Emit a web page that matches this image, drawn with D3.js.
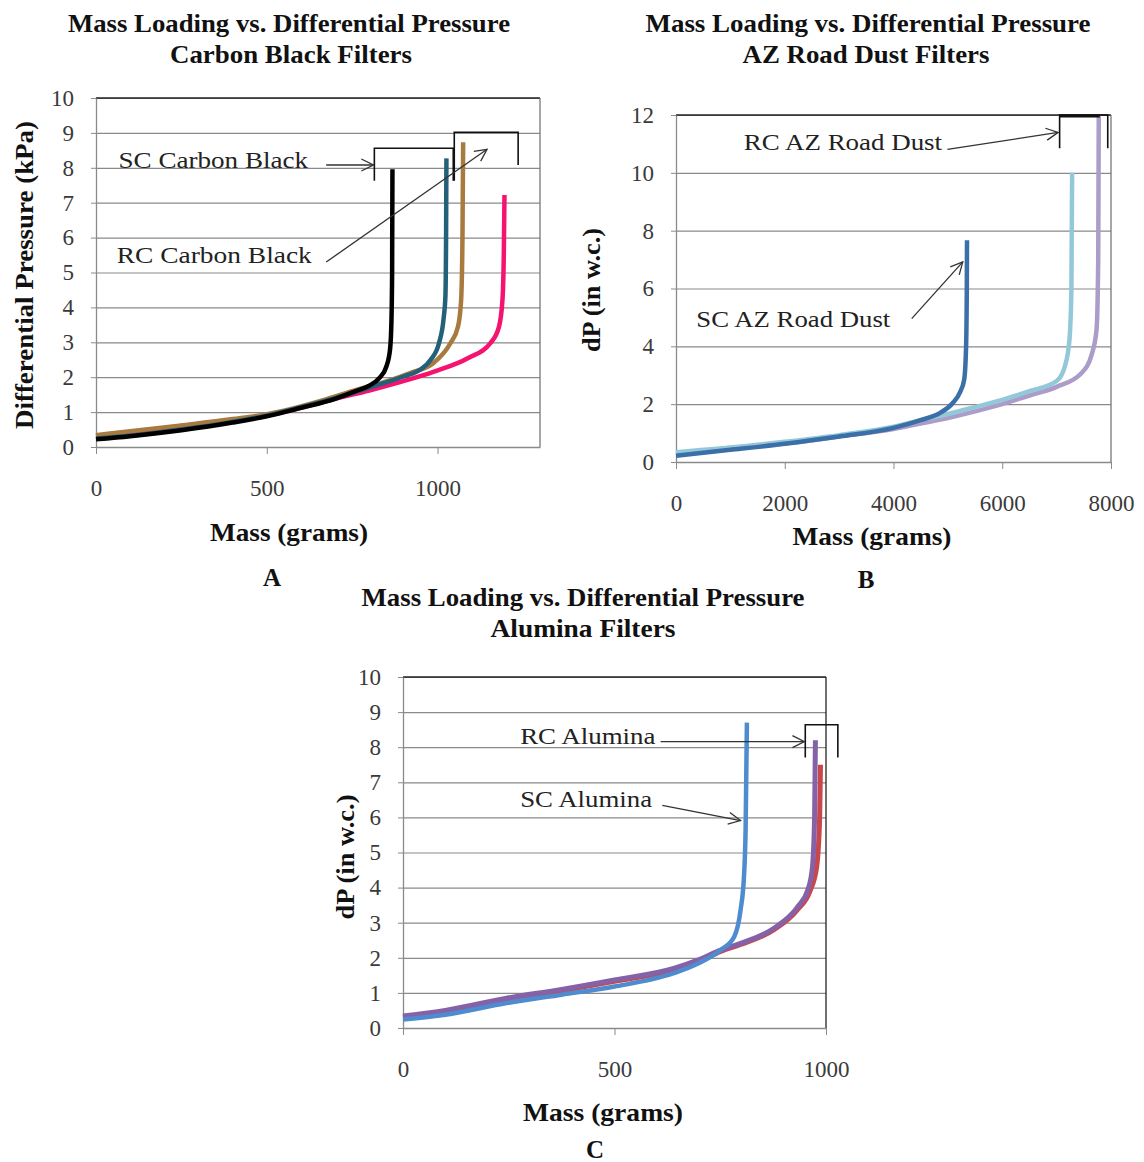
<!DOCTYPE html>
<html><head><meta charset="utf-8">
<script src="https://cdn.jsdelivr.net/npm/d3@7/dist/d3.min.js"></script>
<style>
html,body{margin:0;padding:0;background:#fff;}
svg{display:block;}
text{font-family:"Liberation Serif","Times New Roman",serif;}
</style></head>
<body>
<svg id="c" width="1144" height="1162"></svg>
<script>
// ---------------- DATA ----------------
// Panel A : Carbon Black (mass g, dP kPa)
const xTicksA = [0, 500, 1000];
const yTicksA = [0,1,2,3,4,5,6,7,8,9,10];
const cbBlack = [[0,0.22],[100,0.31],[250,0.48],[400,0.70],[500,0.88],[600,1.12],[700,1.38],[760,1.60],[800,1.76],[830,1.98],[850,2.30],[861,2.80],[865,3.60],[867,5.0],[868,7.96]];
const cbTeal  = [[0,0.24],[100,0.32],[250,0.50],[400,0.72],[500,0.90],[600,1.14],[700,1.40],[800,1.70],[900,2.02],[950,2.22],[980,2.50],[1005,3.0],[1018,3.7],[1023,4.3],[1025,6.0],[1026,8.27]];
const cbBrown = [[0,0.34],[100,0.45],[250,0.62],[400,0.80],[500,0.94],[550,1.04],[650,1.30],[750,1.60],[850,1.88],[920,2.12],[990,2.42],[1038,2.98],[1060,3.45],[1069,4.2],[1073,6.0],[1075,8.73]];
const cbPink  = [[0,0.30],[100,0.41],[250,0.60],[400,0.78],[500,0.90],[600,1.12],[700,1.38],[800,1.62],[890,1.86],[990,2.16],[1090,2.55],[1155,2.98],[1180,3.45],[1190,4.2],[1194,5.5],[1196,7.22]];

// Panel B : AZ Road Dust (mass g, dP in w.c.)
const xTicksB = [0, 2000, 4000, 6000, 8000];
const yTicksB = [0, 2, 4, 6, 8, 10, 12];
const azDark   = [[0,0.22],[1000,0.42],[2000,0.63],[3000,0.88],[4000,1.18],[4500,1.45],[4850,1.69],[5090,2.04],[5220,2.40],[5300,2.85],[5335,4.0],[5348,6.0],[5352,7.67]];
const azLight  = [[0,0.34],[1000,0.50],[2000,0.70],[3000,0.93],[4000,1.22],[4500,1.45],[5000,1.66],[5500,1.90],[6000,2.15],[6500,2.45],[7000,2.80],[7150,3.30],[7235,4.2],[7272,6.0],[7285,10.0]];
const azPurple = [[0,0.30],[1000,0.46],[2000,0.64],[3000,0.88],[4000,1.14],[4500,1.33],[5000,1.52],[5500,1.75],[6000,2.00],[6500,2.30],[7000,2.60],[7450,3.06],[7650,3.75],[7735,4.6],[7765,7.0],[7775,12.0]];

// Panel C : Alumina (mass g, dP in w.c.)
const xTicksC = [0, 500, 1000];
const yTicksC = [0,1,2,3,4,5,6,7,8,9,10];
const alBlue   = [[0,0.24],[100,0.38],[245,0.71],[375,0.95],[500,1.18],[640,1.56],[700,1.85],[751,2.22],[783,2.60],[798,3.36],[806,4.3],[810,5.7],[813,8.70]];
const alRed    = [[0,0.30],[100,0.46],[245,0.80],[375,1.06],[500,1.33],[640,1.66],[700,1.90],[751,2.18],[798,2.38],[877,2.80],[933,3.38],[962,3.90],[978,4.6],[985,6.0],[987,7.50]];
const alPurple = [[0,0.34],[100,0.50],[245,0.85],[375,1.10],[500,1.37],[640,1.70],[700,1.95],[751,2.22],[798,2.41],[877,2.84],[933,3.45],[957,3.93],[968,4.59],[973,6.0],[975,8.20]];

// Annotations (data units)
const labelsA   = [{t:"SC Carbon Black", x0:66, x1:621, y:8.0}, {t:"RC Carbon Black", x0:61, x1:632, y:5.27}];
const arrowsA   = [[674,8.08,812,8.08],[674,5.30,1145,8.53]];
const bracketsA = [[[815,7.63],[815,8.56],[1046,8.56],[1046,7.63]], [[1049,7.63],[1049,9.02],[1236,9.02],[1236,8.08]]];
const labelsB   = [{t:"RC AZ Road Dust", x0:1248, x1:4893, y:10.79}, {t:"SC AZ Road Dust", x0:374, x1:3941, y:4.67}];
const arrowsB   = [[4992,10.81,7028,11.40],[4335,4.96,5274,6.92]];
const bracketsB = [[[7055,10.85],[7055,12],[7940,12],[7940,10.85]]];
const labelsC   = [{t:"RC Alumina", x0:277, x1:597, y:8.09}, {t:"SC Alumina", x0:277, x1:589, y:6.29}];
const arrowsC   = [[609,8.16,949,8.16],[613,6.34,798,5.91]];
const bracketsC = [[[951,7.71],[951,8.64],[1028,8.64],[1028,7.71]]];

// ---------------- DRAW ----------------
const svg = d3.select("#c");
const defs = svg.append("defs");
defs.append("marker").attr("id","ah").attr("viewBox","0 0 14 14")
  .attr("refX",13).attr("refY",7).attr("markerWidth",14).attr("markerHeight",14)
  .attr("markerUnits","userSpaceOnUse").attr("orient","auto")
  .append("path").attr("d","M1,1 L13,7 L1,13").attr("fill","none").attr("stroke","#333").attr("stroke-width",1.3);

function txt(x, y, s, size, len, opts={}) {
  const t = svg.append("text").attr("x",x).attr("y",y).text(s)
    .attr("font-size",size).attr("fill",opts.fill||"#111")
    .attr("font-weight",opts.bold?"bold":"normal")
    .attr("text-anchor",opts.anchor||"middle");
  if (len) t.attr("textLength",len).attr("lengthAdjust","spacingAndGlyphs");
  if (opts.rotate) t.attr("transform",`rotate(-90,${x},${y})`);
  return t;
}

function panel(cfg) {
  const x = d3.scaleLinear().domain([0,cfg.xMax]).range([cfg.left,cfg.right]);
  const y = d3.scaleLinear().domain([0,cfg.yMax]).range([cfg.bottom,cfg.top]);
  const g = svg.append("g");
  g.append("g").attr("transform",`translate(${cfg.left},0)`)
    .call(d3.axisLeft(y).tickValues(cfg.yTicks).tickSize(-(cfg.right-cfg.left)).tickFormat(""))
    .call(a=>a.select(".domain").remove())
    .selectAll("line").attr("stroke","#8a8a8a").attr("stroke-width",1.2);
  g.append("line").attr("x1",cfg.left).attr("x2",cfg.right).attr("y1",cfg.top).attr("y2",cfg.top).attr("stroke","#222").attr("stroke-width",1.4);
  g.append("line").attr("x1",cfg.right).attr("x2",cfg.right).attr("y1",cfg.top).attr("y2",cfg.bottom).attr("stroke",cfg.rightColor).attr("stroke-width",1.3);
  const ya = g.append("g").attr("transform",`translate(${cfg.left},0)`)
    .call(d3.axisLeft(y).tickValues(cfg.yTicks).tickSize(5).tickPadding(17).tickSizeOuter(0));
  ya.select(".domain").attr("stroke","#8a8a8a").attr("stroke-width",1.3);
  ya.selectAll("line").attr("stroke","#8a8a8a");
  ya.selectAll("text").attr("font-size",23).attr("fill","#3a3a3a").attr("font-family","Liberation Serif");
  const xa = g.append("g").attr("transform",`translate(0,${cfg.bottom})`)
    .call(d3.axisBottom(x).tickValues(cfg.xTicks).tickSize(7).tickPadding(26).tickSizeOuter(0).tickFormat(d3.format("d")));
  xa.select(".domain").attr("stroke","#8a8a8a").attr("stroke-width",1.3);
  xa.selectAll("line").attr("stroke","#8a8a8a");
  xa.selectAll("text").attr("font-size",23).attr("fill","#3a3a3a").attr("font-family","Liberation Serif");
  const line = d3.line().x(d=>x(d[0])).y(d=>y(d[1])).curve(d3.curveMonotoneX);
  cfg.series.forEach(s=>{
    g.append("path").datum(s.pts).attr("d",line).attr("fill","none")
      .attr("stroke",s.color).attr("stroke-width",s.w||4.5).attr("stroke-linejoin","round").attr("stroke-linecap","butt");
  });
  cfg.brackets.forEach(b=>{
    g.append("path").attr("d",d3.line().x(d=>x(d[0])).y(d=>y(d[1]))(b))
      .attr("fill","none").attr("stroke","#111").attr("stroke-width",1.6);
  });
  if (cfg.thickTop) {
    const b = cfg.brackets[0];
    g.append("line").attr("x1",x(b[1][0])).attr("x2",x(b[2][0])-8).attr("y1",y(b[1][1])+1).attr("y2",y(b[1][1])+1)
      .attr("stroke","#111").attr("stroke-width",3);
  }
  cfg.arrows.forEach(a=>{
    g.append("line").attr("x1",x(a[0])).attr("y1",y(a[1])).attr("x2",x(a[2])).attr("y2",y(a[3]))
      .attr("stroke","#333").attr("stroke-width",1.3).attr("marker-end","url(#ah)");
  });
  cfg.labels.forEach(l=>{
    txt(x(l.x0), y(l.y), l.t, 24, x(l.x1)-x(l.x0), {anchor:"start", fill:"#222"});
  });
}

panel({left:96,right:540,top:98,bottom:447,xMax:1300,yMax:10,xTicks:xTicksA,yTicks:yTicksA,rightColor:"#777",
  series:[{pts:cbPink,color:"#f5136f"},{pts:cbBrown,color:"#a87a3e"},{pts:cbTeal,color:"#23607a"},{pts:cbBlack,color:"#000000"}],
  brackets:bracketsA, arrows:arrowsA, labels:labelsA});
panel({left:676,right:1111,top:115,bottom:462,xMax:8000,yMax:12,xTicks:xTicksB,yTicks:yTicksB,rightColor:"#777",thickTop:true,
  series:[{pts:azPurple,color:"#ab9cc9"},{pts:azLight,color:"#93c8d8"},{pts:azDark,color:"#3b6fa8"}],
  brackets:bracketsB, arrows:arrowsB, labels:labelsB});
panel({left:403,right:826,top:677,bottom:1028,xMax:1000,yMax:10,xTicks:xTicksC,yTicks:yTicksC,rightColor:"#222",
  series:[{pts:alRed,color:"#c9474a",w:5},{pts:alPurple,color:"#8562a8",w:5},{pts:alBlue,color:"#4f8bcf"}],
  brackets:bracketsC, arrows:arrowsC, labels:labelsC});

txt(289, 32, "Mass Loading vs. Differential Pressure", 25, 442, {bold:true});
txt(291, 63, "Carbon Black Filters", 25, 242, {bold:true});
txt(868, 32, "Mass Loading vs. Differential Pressure", 25, 445, {bold:true});
txt(866, 63, "AZ Road Dust Filters", 25, 247, {bold:true});
txt(583, 606, "Mass Loading vs. Differential Pressure", 25, 443, {bold:true});
txt(583, 637, "Alumina Filters", 25, 185, {bold:true});
txt(33, 275, "Differential Pressure (kPa)", 25, 308, {bold:true, rotate:true});
txt(600, 290, "dP (in w.c.)", 25, 124, {bold:true, rotate:true});
txt(354, 857, "dP (in w.c.)", 25, 125, {bold:true, rotate:true});
txt(289, 541, "Mass (grams)", 25, 158, {bold:true});
txt(872, 545, "Mass (grams)", 25, 159, {bold:true});
txt(603, 1121, "Mass (grams)", 25, 160, {bold:true});
txt(272, 586, "A", 25, null, {bold:true});
txt(866, 588, "B", 25, null, {bold:true});
txt(595, 1158, "C", 25, null, {bold:true});
</script>
</body></html>
